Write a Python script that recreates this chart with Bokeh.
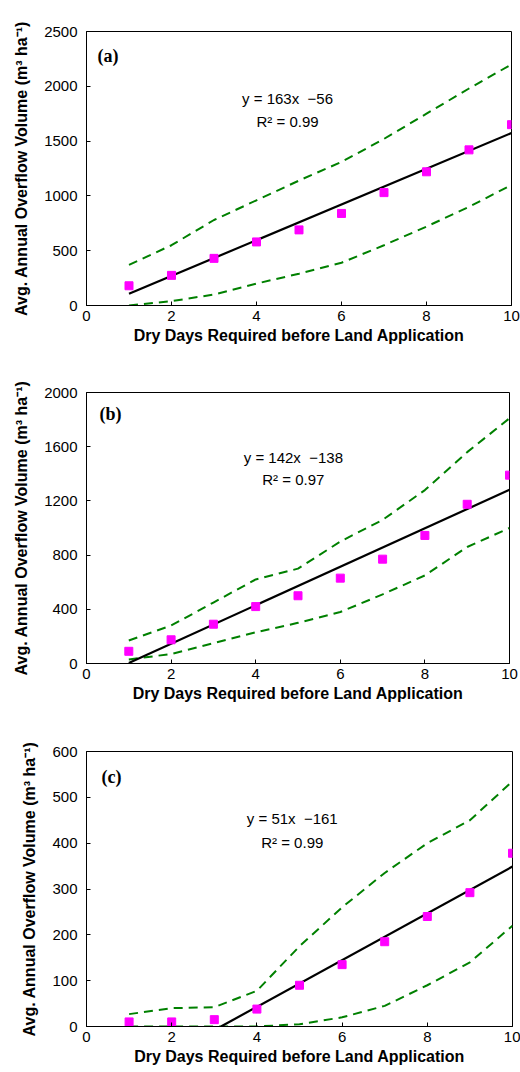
from bokeh.plotting import figure
from bokeh.layouts import column
from bokeh.models import Range1d, FixedTicker
from bokeh.core.properties import value
from bokeh.embed import file_html
from bokeh.resources import INLINE

days = [1, 2, 3, 4, 5, 6, 7, 8, 9, 10]

# Panel (a)
a_obs = [180, 275, 430, 580, 690, 840, 1030, 1220, 1420, 1650]
a_upper = [370, 550, 780, 960, 1140, 1310, 1520, 1750, 1980, 2200]
a_lower = [0, 40, 100, 200, 290, 390, 550, 720, 900, 1100]
a_slope, a_icpt = 163, -56
a_eq = ["y = 163x \u00a0\u221256", "R\u00b2 = 0.99"]

# Panel (b)
b_obs = [90, 175, 290, 420, 500, 630, 770, 945, 1175, 1390]
b_upper = [170, 280, 450, 620, 700, 900, 1060, 1280, 1560, 1810]
b_lower = [30, 70, 150, 230, 300, 380, 510, 650, 860, 1000]
b_slope, b_icpt = 142, -138
b_eq = ["y = 142x \u00a0\u2212138", "R\u00b2 = 0.97"]

# Panel (c)
c_obs = [10, 10, 15, 38, 90, 135, 185, 240, 292, 378]
c_upper = [27, 40, 42, 78, 175, 260, 335, 400, 450, 535]
c_lower = [0, 0, 0, 0, 5, 20, 45, 90, 140, 220]
c_slope, c_icpt = 51, -161
c_eq = ["y = 51x \u00a0\u2212161", "R\u00b2 = 0.99"]

x_ticks = [0, 2, 4, 6, 8, 10]
XLABEL = "Dry Days Required before Land Application"
YLABEL = "Avg. Annual Overflow Volume (m\u00b3 ha\u207b\u00b9)"
SANS = "Liberation Sans"
SERIF = "Liberation Serif"


def panel(tag, obs, upper, lower, slope, icpt, eq, ymax, ystep,
          left, right, top, fw, fh, bottom, tag_pos, eq_pos):
    p = figure(frame_width=fw, frame_height=fh, output_backend="svg",
               toolbar_location=None, x_range=Range1d(0, 10),
               y_range=Range1d(0, ymax), min_border_left=left,
               min_border_right=right, min_border_top=top,
               min_border_bottom=bottom)
    p.background_fill_color = "white"
    p.border_fill_color = "white"
    p.outline_line_color = "black"
    p.outline_line_width = 1
    p.xgrid.visible = False
    p.ygrid.visible = False

    p.xaxis.ticker = FixedTicker(ticks=x_ticks)
    p.yaxis.ticker = FixedTicker(ticks=list(range(0, ymax + 1, ystep)))
    for ax in (p.xaxis, p.yaxis):
        ax.major_tick_in = 4
        ax.major_tick_out = 0
        ax.minor_tick_in = 0
        ax.minor_tick_out = 0
        ax.axis_line_color = "black"
        ax.major_tick_line_color = "black"
        ax.major_label_text_font = SANS
        ax.major_label_text_font_size = "15px"
        ax.major_label_text_color = "black"
        ax.axis_label_text_font = SANS
        ax.axis_label_text_font_style = "bold"
        ax.axis_label_text_font_size = "16px"
        ax.axis_label_text_color = "black"
    p.xaxis.axis_label = XLABEL
    p.yaxis.axis_label = YLABEL
    p.xaxis.major_label_standoff = 5
    p.xaxis.axis_label_standoff = 3
    p.yaxis.major_label_standoff = 9
    p.yaxis.axis_label_standoff = 11

    # bounds
    p.line(days, upper, line_color="#008000", line_width=2, line_dash="9 6")
    p.line(days, lower, line_color="#008000", line_width=2, line_dash="9 6")

    # trend line, clipped at zero
    x0 = max(1.0, -icpt / slope)
    xs = [x0, 10]
    ys = [slope * x + icpt for x in xs]
    p.line(xs, ys, line_color="black", line_width=2.2)

    p.scatter(days, obs, marker="square", size=8, fill_color="#FF00FF",
              line_color="#FF00FF")

    p.text(x=[tag_pos[0]], y=[tag_pos[1]], text=[tag],
           text_font=value(SERIF), text_font_style="bold",
           text_font_size="18px", text_align="left",
           text_baseline="middle", text_color="black")
    p.text(x=[eq_pos[0], eq_pos[0]], y=[eq_pos[1], eq_pos[2]], text=eq,
           text_font=value(SANS), text_font_size="15px",
           text_align="center", text_baseline="middle", text_color="black")
    return p


pa = panel("(a)", a_obs, a_upper, a_lower, a_slope, a_icpt, a_eq, 2500, 500,
           86, 9, 31, 425, 274, 47, (0.26, 2272), (4.73, 1889, 1679))
pb = panel("(b)", b_obs, b_upper, b_lower, b_slope, b_icpt, b_eq, 2000, 400,
           84, 13, 40, 423, 271, 43, (0.31, 1838), (4.89, 1520, 1358))
pc = panel("(c)", c_obs, c_upper, c_lower, c_slope, c_icpt, c_eq, 600, 100,
           77, 17, 45, 426, 275, 46, (0.35, 545), (4.83, 454, 401))

layout = column(pa, pb, pc, spacing=0)
open("out.html", "w").write(file_html(layout, INLINE))
